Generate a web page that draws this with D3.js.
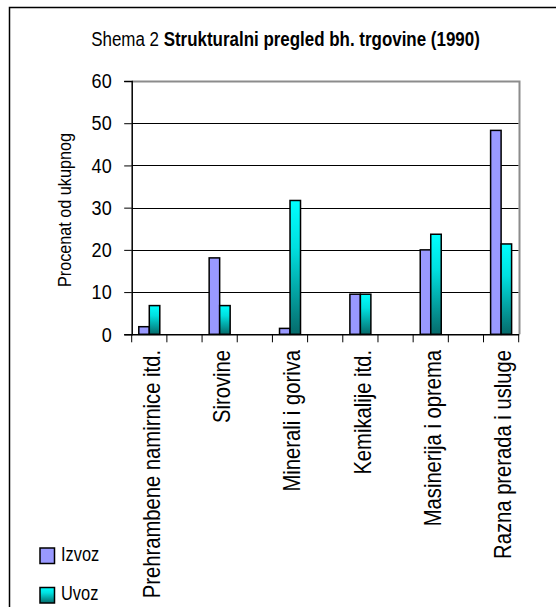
<!DOCTYPE html>
<html>
<head>
<meta charset="utf-8">
<script src="https://cdn.jsdelivr.net/npm/d3@7"></script>
<style>
  body { margin: 0; background: #fff; }
  text { font-family: "Liberation Sans", Arial, sans-serif; fill: #000; }
</style>
</head>
<body>
<div id="chart"></div>
<script>
const categories = ["Prehrambene namirnice itd.", "Sirovine", "Minerali i goriva", "Kemikalije itd.", "Masinerija i oprema", "Razna prerada i usluge"];
const izvoz = [1.8, 18.1, 1.4, 9.5, 20.0, 48.3];
const uvoz = [6.8, 6.8, 31.7, 9.5, 23.7, 21.4];
const yTicks = [0, 10, 20, 30, 40, 50, 60];
const seriesNames = ["Izvoz", "Uvoz"];

const width = 556, height = 607;
const plot = { left: 131.7, right: 518.7, top: 81, bottom: 334.3 };
// no narrow font installed, so squeeze the text horizontally
const narrow = 0.86;

const svg = d3.select("#chart").append("svg")
  .attr("width", width)
  .attr("height", height);

const defs = svg.append("defs");
const grad = defs.append("linearGradient")
  .attr("id", "uvozGrad")
  .attr("x1", 0).attr("y1", 0).attr("x2", 0).attr("y2", 1);
grad.append("stop").attr("offset", "0%").attr("stop-color", "#00ffff");
grad.append("stop").attr("offset", "35%").attr("stop-color", "#00e0e0");
grad.append("stop").attr("offset", "100%").attr("stop-color", "#066a6a");

// outer frame (only left and top visible)
svg.append("path")
  .attr("d", `M9.5,${height} V7.5 H${width}`)
  .attr("fill", "none")
  .attr("stroke", "#000")
  .attr("stroke-width", 1.5);

// title
const title = svg.append("text")
  .attr("transform", `translate(285.5,46) scale(${narrow},1)`)
  .attr("text-anchor", "middle")
  .style("font-size", "19.7px");
title.append("tspan").text("Shema 2 ");
title.append("tspan").style("font-weight", "bold").text("Strukturalni pregled bh. trgovine (1990)");

// scales: empty slot between each category, like the original sheet
const slots = d3.range(categories.length * 2 - 1);
const x = d3.scaleBand().domain(slots).range([plot.left, plot.right]).padding(0);
const y = d3.scaleLinear().domain([0, 60]).range([plot.bottom, plot.top]);

const barW = 10.5;

// gridlines
svg.append("g")
  .selectAll("line")
  .data(yTicks.filter(t => t > 0 && t < 60))
  .join("line")
  .attr("x1", plot.left).attr("x2", plot.right)
  .attr("y1", d => Math.round(y(d)) + 0.5).attr("y2", d => Math.round(y(d)) + 0.5)
  .attr("stroke", "#000");

// plot frame top/right in gray
svg.append("path")
  .attr("d", `M${plot.left},${Math.round(plot.top) + 0.5} H${Math.round(plot.right) + 0.5} V${plot.bottom}`)
  .attr("fill", "none")
  .attr("stroke", "#8c8c8c")
  .attr("stroke-width", 2);

// bars
const groups = svg.append("g")
  .selectAll("g")
  .data(categories.map((c, i) => ({ c, i, vals: [izvoz[i], uvoz[i]] })))
  .join("g")
  .attr("transform", d => `translate(${x(d.i * 2) + x.bandwidth() / 2 - barW},0)`);

groups.selectAll("rect")
  .data(d => d.vals)
  .join("rect")
  .attr("x", (d, j) => j * barW)
  .attr("y", d => y(d))
  .attr("width", barW)
  .attr("height", d => y(0) - y(d))
  .attr("fill", (d, j) => j === 0 ? "#9999ff" : "url(#uvozGrad)")
  .attr("stroke", "#000")
  .attr("stroke-width", 1.5);

// y axis
const yAxis = svg.append("g")
  .attr("transform", `translate(${plot.left},0)`)
  .call(d3.axisLeft(y).tickValues(yTicks).tickSize(7.5));
yAxis.select(".domain").attr("stroke", "#000").attr("stroke-width", 1.5);
yAxis.selectAll(".tick line").attr("stroke", "#000");
yAxis.selectAll(".tick text")
  .attr("x", -20 / narrow)
  .attr("transform", `scale(${narrow},1)`)
  .style("font-size", "21px")
  .attr("fill", "#000");

// x axis
const xAxis = svg.append("g")
  .attr("transform", `translate(0,${plot.bottom})`)
  .call(d3.axisBottom(x).tickSize(0).tickFormat(""));
xAxis.select(".domain").attr("stroke", "#000").attr("stroke-width", 1.5);

// category boundary ticks
svg.append("g")
  .selectAll("line")
  .data(slots.concat([slots.length]))
  .join("line")
  .attr("x1", d => d < slots.length ? x(d) : plot.right)
  .attr("x2", d => d < slots.length ? x(d) : plot.right)
  .attr("y1", plot.bottom)
  .attr("y2", plot.bottom + 8)
  .attr("stroke", "#000");

// category labels
svg.append("g")
  .selectAll("text")
  .data(categories)
  .join("text")
  .attr("transform", (d, i) => `translate(${x(i * 2) + x.bandwidth() / 2 + 2},350) rotate(-90) scale(${narrow},1)`)
  .attr("text-anchor", "end")
  .attr("dy", "0.35em")
  .style("font-size", "23.5px")
  .text(d => d);

// y axis title
svg.append("text")
  .attr("transform", `translate(65,210) rotate(-90) scale(0.9,1)`)
  .attr("text-anchor", "middle")
  .attr("dy", "0.35em")
  .style("font-size", "18px")
  .text("Procenat od ukupnog");

// legend
const legend = svg.append("g")
  .selectAll("g")
  .data(seriesNames)
  .join("g")
  .attr("transform", (d, i) => `translate(40,${548 + i * 39.5})`);
legend.append("rect")
  .attr("width", 14.5).attr("height", 15.5)
  .attr("fill", (d, i) => i === 0 ? "#9999ff" : "url(#uvozGrad)")
  .attr("stroke", "#000")
  .attr("stroke-width", 1.5);
legend.append("text")
  .attr("transform", "translate(21,12.5) scale(0.82,1)")
  .style("font-size", "20px")
  .text(d => d);
</script>
</body>
</html>
